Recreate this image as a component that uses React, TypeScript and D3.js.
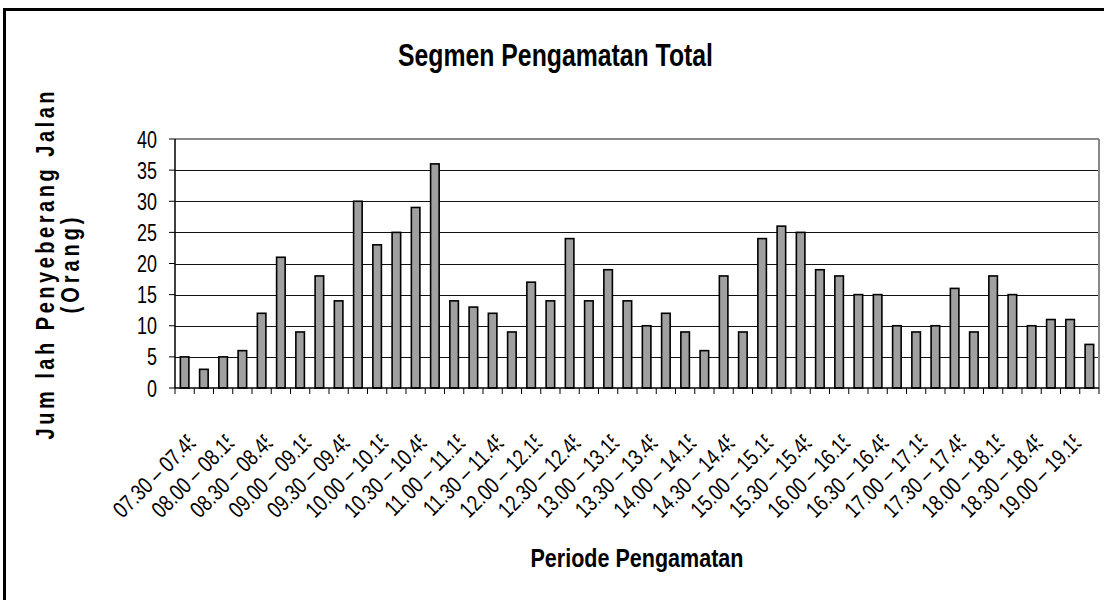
import React from 'react';
import * as d3 from 'd3';

// observation periods (15 min) and counted pedestrians
const periods = [
  '07.30 – 07.45', '07.45 – 08.00', '08.00 – 08.15', '08.15 – 08.30',
  '08.30 – 08.45', '08.45 – 09.00', '09.00 – 09.15', '09.15 – 09.30',
  '09.30 – 09.45', '09.45 – 10.00', '10.00 – 10.15', '10.15 – 10.30',
  '10.30 – 10.45', '10.45 – 11.00', '11.00 – 11.15', '11.15 – 11.30',
  '11.30 – 11.45', '11.45 – 12.00', '12.00 – 12.15', '12.15 – 12.30',
  '12.30 – 12.45', '12.45 – 13.00', '13.00 – 13.15', '13.15 – 13.30',
  '13.30 – 13.45', '13.45 – 14.00', '14.00 – 14.15', '14.15 – 14.30',
  '14.30 – 14.45', '14.45 – 15.00', '15.00 – 15.15', '15.15 – 15.30',
  '15.30 – 15.45', '15.45 – 16.00', '16.00 – 16.15', '16.15 – 16.30',
  '16.30 – 16.45', '16.45 – 17.00', '17.00 – 17.15', '17.15 – 17.30',
  '17.30 – 17.45', '17.45 – 18.00', '18.00 – 18.15', '18.15 – 18.30',
  '18.30 – 18.45', '18.45 – 19.00', '19.00 – 19.15', '19.15 – 19.30',
];
const pedestrians = [
  5, 3, 5, 6, 12, 21, 9, 18, 14, 30, 23, 25, 29, 36, 14, 13,
  12, 9, 17, 14, 24, 14, 19, 14, 10, 12, 9, 6, 18, 9, 24, 26,
  25, 19, 18, 15, 15, 10, 9, 10, 16, 9, 18, 15, 10, 11, 11, 7,
];
const yTicks = [0, 5, 10, 15, 20, 25, 30, 35, 40];

const chartTitle = 'Segmen Pengamatan Total';
const xTitle = 'Periode Pengamatan';
const yTitle1 = 'Jum lah Penyeberang Jalan';
const yTitle2 = '(Orang)';

const FONT = '"Liberation Sans", Arial, sans-serif';

export default function App() {
  const width = 1104;
  const height = 600;
  const left = 175, right = 1099, top = 139, bottom = 388;

  const x = d3.scaleBand<string>()
    .domain(periods)
    .range([left, right])
    .paddingInner(0.556)
    .paddingOuter(0.278);
  const y = d3.scaleLinear().domain([0, 40]).range([bottom, top]);

  const step = x.step();
  const boundaries = d3.range(periods.length + 1).map((i) => left + i * step);

  return (
    <svg width={width} height={height} style={{ position: 'absolute', left: 0, top: 0, background: '#fff' }}
      fontFamily={FONT}>
      <defs>
        <clipPath id="lblclip">
          <rect x={-400} y={-40} width={395} height={80} />
        </clipPath>
      </defs>
      {/* outer frame */}
      <rect x={4.5} y={9.5} width={1120} height={620} fill="#fff" stroke="#000" strokeWidth={3} />

      <text x={555.5} y={66} textAnchor="middle" fontSize={32} fontWeight="bold"
        textLength={315} lengthAdjust="spacingAndGlyphs">{chartTitle}</text>

      {/* gridlines */}
      {yTicks.filter((t) => t > 0 && t < 40).map((t) => (
        <line key={t} x1={left} x2={right} y1={Math.round(y(t)) + 0.5} y2={Math.round(y(t)) + 0.5}
          stroke="#111" strokeWidth={1} />
      ))}
      <line x1={left} x2={right} y1={top} y2={top} stroke="#888" strokeWidth={2} />
      <line x1={right} x2={right} y1={top} y2={bottom} stroke="#888" strokeWidth={2} />

      {/* bars */}
      {periods.map((p, i) => (
        <rect key={p} x={x(p)} y={y(pedestrians[i])} width={x.bandwidth()}
          height={y(0) - y(pedestrians[i])} fill="#a0a0a0" stroke="#000" strokeWidth={1.6} />
      ))}

      {/* axes */}
      <line x1={left} x2={left} y1={top} y2={bottom} stroke="#000" strokeWidth={1.5} />
      <line x1={left} x2={right} y1={bottom} y2={bottom} stroke="#000" strokeWidth={1.5} />
      {yTicks.map((t) => (
        <g key={t}>
          <line x1={left - 6} x2={left} y1={y(t)} y2={y(t)} stroke="#000" strokeWidth={1} />
          <text transform={`translate(157,${y(t) + 8.5}) scale(0.78,1)`} textAnchor="end" fontSize={23}>{t}</text>
        </g>
      ))}
      {boundaries.map((bx, i) => (
        <line key={i} x1={bx} x2={bx} y1={bottom} y2={bottom + 6} stroke="#000" strokeWidth={1} />
      ))}

      {/* category labels, every other one */}
      {periods.map((p, i) => {
        if (i % 2 !== 0) return null;
        const cx = (x(p) as number) + x.bandwidth() / 2;
        return (
          <g key={p} transform={`translate(${cx + 15.5},441.5) rotate(-45)`}>
            <g clipPath="url(#lblclip)">
              <text transform="scale(0.78,1)" textAnchor="end" fontSize={23}>{p}</text>
            </g>
          </g>
        );
      })}

      <text x={(left + right) / 2} y={567} textAnchor="middle" fontSize={26} fontWeight="bold"
        textLength={213} lengthAdjust="spacingAndGlyphs">{xTitle}</text>

      <text transform={`translate(54,${(top + bottom) / 2 + 2}) rotate(-90) scale(0.8,1)`} textAnchor="middle"
        fontSize={25} fontWeight="bold" textLength={435} lengthAdjust="spacing">{yTitle1}</text>
      <text transform={`translate(79,${(top + bottom) / 2 + 2}) rotate(-90) scale(0.8,1)`} textAnchor="middle"
        fontSize={25} fontWeight="bold" textLength={120} lengthAdjust="spacing">{yTitle2}</text>
    </svg>
  );
}
